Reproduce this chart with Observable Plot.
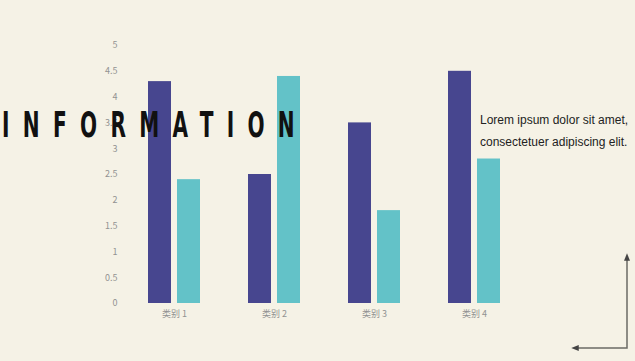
<!DOCTYPE html>
<html>
<head>
<meta charset="utf-8">
<script src="https://cdn.jsdelivr.net/npm/d3@7"></script>
<script src="https://cdn.jsdelivr.net/npm/@observablehq/plot@0.6"></script>
<style>
  html, body { margin: 0; padding: 0; background: #f5f2e6; }
  #wrap { position: relative; width: 635px; height: 361px; overflow: hidden; }
  #title {
    position: absolute; left: 2px; top: 104px;
    font-family: "Liberation Sans Narrow", "DejaVu Sans Condensed", sans-serif;
    font-weight: bold; font-size: 36px; color: #111;
    letter-spacing: 21.5px; white-space: nowrap;
    transform: scaleX(0.62); transform-origin: left top;
  }
  #side {
    position: absolute; left: 480px; top: 109px;
    font-family: "Liberation Sans", "Noto Sans", sans-serif; font-size: 12px; line-height: 22px; color: #222;
    white-space: nowrap;
  }
  #deco { position: absolute; left: 0; top: 0; }
</style>
</head>
<body>
<div id="wrap">
  <div id="chart"></div>
  <div id="title">INFORMATION</div>
  <div id="side">Lorem ipsum dolor sit amet,<br>consectetuer adipiscing elit.</div>
  <svg id="deco" width="635" height="361">
    <defs>
      <marker id="ah" viewBox="0 0 10 10" refX="5" refY="5" markerWidth="5" markerHeight="5" orient="auto-start-reverse">
        <path d="M0,1 L10,5 L0,9 z" fill="#444"/>
      </marker>
    </defs>
    <polyline points="575,348 627,348 627,257" fill="none" stroke="#6b6b66" stroke-width="1.5" marker-start="url(#ah)" marker-end="url(#ah)"/>
  </svg>
</div>
<script>
const categories = ["类别 1", "类别 2", "类别 3", "类别 4"];
const series1 = [4.3, 2.5, 3.5, 4.5];
const series2 = [2.4, 4.4, 1.8, 2.8];
const yTicks = [0, 0.5, 1, 1.5, 2, 2.5, 3, 3.5, 4, 4.5, 5];

const data1 = categories.map((c, i) => ({category: c, value: series1[i]}));
const data2 = categories.map((c, i) => ({category: c, value: series2[i]}));

const chart = Plot.plot({
  width: 635,
  height: 361,
  marginLeft: 124,
  marginRight: 111,
  marginTop: 45,
  marginBottom: 58,
  style: {background: "transparent", fontFamily: "'Noto Sans CJK SC', 'Noto Sans', sans-serif", fontSize: "9px", color: "#929292"},
  x: {domain: categories, padding: 0, label: null, tickSize: 0, tickPadding: 7},
  y: {domain: [0, 5], ticks: yTicks, tickFormat: d => String(d), label: null, tickSize: 0, tickPadding: 7},
  marks: [
    Plot.gridY(yTicks, {stroke: "#dcd9cf", strokeOpacity: 1, x1: 122, x2: 525}),
    Plot.barY(data1, {x: "category", y: "value", fill: "#47468f", insetLeft: 24, insetRight: 53}),
    Plot.barY(data2, {x: "category", y: "value", fill: "#63c2c8", insetLeft: 53, insetRight: 24})
  ]
});
document.getElementById("chart").appendChild(chart);
</script>
</body>
</html>
